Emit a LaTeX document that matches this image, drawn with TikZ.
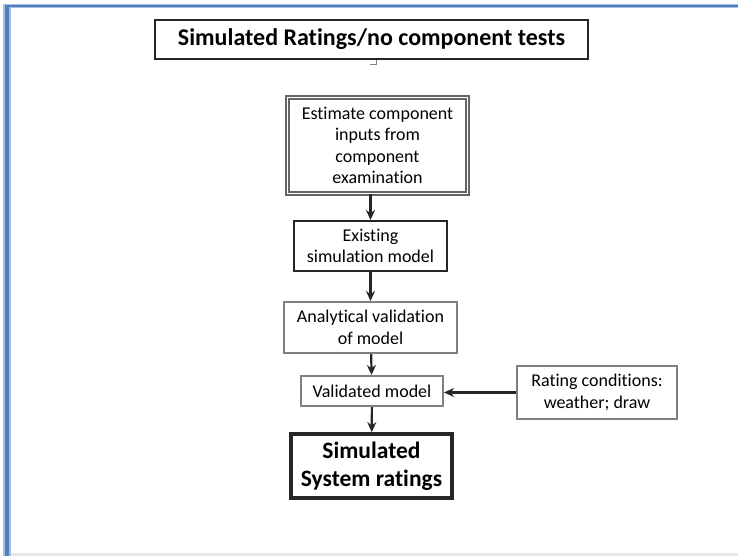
\documentclass[tikz,border=0pt]{standalone}
\usepackage{fontspec}
\setmainfont{Carlito}[Ligatures=CommonOff]
\usetikzlibrary{arrows.meta}

\definecolor{frameblue}{HTML}{4F81BD}
\definecolor{framelight}{HTML}{A7BFDE}
\definecolor{pagegrey}{HTML}{E4E8EC}

\begin{document}
\begin{tikzpicture}[x=1pt,y=-1pt,
  box/.style={draw=black!85, line width=2pt, fill=white, align=center,
    inner sep=2pt, font=\fontsize{18}{21.5}\selectfont},
  greybox/.style={box, draw=black!50},
  flow/.style={-{Stealth[length=10pt,width=9pt]}, line width=2.2pt, draw=black!85}]

\useasboundingbox (0,0) rectangle (738,556);
\fill[white] (0,0) rectangle (738,556);

\fill[framelight] (3,4) rectangle (11,556);
\fill[framelight] (3,4) rectangle (738,8);
\fill[frameblue] (5,5) rectangle (9,556);
\fill[frameblue] (5,5) rectangle (738,7);
\fill[pagegrey] (11,553) rectangle (738,556);

\node[box, line width=2.4pt, minimum width=433pt, minimum height=39pt,
  font=\bfseries\fontsize{24}{28}\selectfont] (title) at (371.5,39.5)
  {Simulated Ratings/no component tests};
\draw[black!50, line width=0.8pt] (370,64) -- (376,64) -- (376,60);

\node[box, draw=black!60, line width=1.7pt, double=white, double distance=1.2pt,
  minimum width=180pt, minimum height=96pt] (estimate) at (377.5,145.5)
  {Estimate component\\inputs from\\component\\examination};
\node[box, minimum width=153pt, minimum height=50pt] (existing) at (370.5,246)
  {Existing\\simulation model};
\node[greybox, minimum width=173pt, minimum height=51pt] (analytic) at (370.5,327.5)
  {Analytical validation\\of model};
\node[greybox, minimum width=142pt, minimum height=30pt] (validated) at (372,391)
  {Validated model};
\node[box, line width=3.8pt, minimum width=161pt, minimum height=64pt,
  font=\bfseries\fontsize{23.5}{28}\selectfont] (ratings) at (371.5,466)
  {Simulated\\System ratings};
\node[greybox, minimum width=160pt, minimum height=53pt] (conditions) at (597,392.5)
  {Rating conditions:\\weather; draw};

\draw[flow] (estimate.south -| existing.north) -- (existing.north);
\draw[flow] (existing) -- (analytic);
\draw[flow] (analytic) -- (validated);
\draw[flow] (validated) -- (ratings);
\draw[flow] (conditions.west) -- (conditions.west -| validated.east);
\end{tikzpicture}
\end{document}
